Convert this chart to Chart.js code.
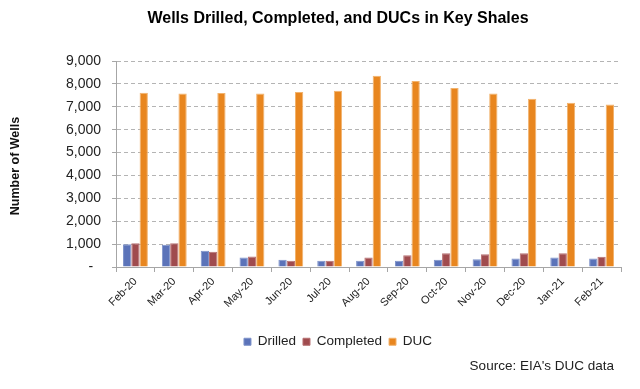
<!DOCTYPE html>
<html>
<head>
<meta charset="utf-8">
<title>Wells Drilled, Completed, and DUCs in Key Shales</title>
<script src="https://cdn.jsdelivr.net/npm/chart.js@4/dist/chart.umd.min.js"></script>
<style>
  html, body { margin: 0; padding: 0; background: #fff; }
  #wrap { width: 640px; height: 389px; }
</style>
</head>
<body>
<div id="wrap"><canvas id="chart" width="640" height="389"></canvas></div>
<script>
// ====== DATA ======
const months = ["Feb-20", "Mar-20", "Apr-20", "May-20", "Jun-20", "Jul-20", "Aug-20",
  "Sep-20", "Oct-20", "Nov-20", "Dec-20", "Jan-21", "Feb-21"];
const drilled = [990, 975, 715, 415, 315, 270, 270, 271, 314, 343, 371, 414, 371];
const completed = [1040, 1040, 670, 460, 270, 270, 415, 514, 600, 557, 600, 600, 443];
const duc = [7610, 7575, 7600, 7575, 7650, 7695, 8360, 8130, 7825, 7575, 7350, 7175, 7100];
const yTicks = [0, 1000, 2000, 3000, 4000, 5000, 6000, 7000, 8000, 9000];

const FONT = "'Liberation Sans', Arial, sans-serif";
const gray = "#a6a6a6";

// texto extra: etiqueta del eje Y y la fuente
const sideText = {
  id: "sideText",
  afterDraw(chart) {
    const ctx = chart.ctx;
    ctx.save();
    ctx.fillStyle = "#111";
    ctx.font = `bold 12.5px ${FONT}`;
    ctx.textAlign = "center";
    ctx.textBaseline = "middle";
    ctx.translate(16, 166);
    ctx.rotate(-Math.PI / 2);
    ctx.fillText("Number of Wells", 0, 0);
    ctx.restore();

    ctx.save();
    ctx.fillStyle = "#222";
    ctx.font = `13.5px ${FONT}`;
    ctx.textAlign = "right";
    ctx.textBaseline = "middle";
    ctx.fillText("Source: EIA's DUC data", 614, 366);
    ctx.restore();
  },
};

new Chart(document.getElementById("chart"), {
  type: "bar",
  data: {
    labels: months,
    datasets: [
      { label: "Drilled", data: drilled, backgroundColor: "#5b73b9", borderColor: "#7d92c9", borderWidth: 1 },
      { label: "Completed", data: completed, backgroundColor: "#a04b4e", borderColor: "#b77072", borderWidth: 1 },
      { label: "DUC", data: duc, backgroundColor: "#e8861f", borderColor: "#f2b36e", borderWidth: 1 },
    ],
  },
  options: {
    responsive: false,
    animation: false,
    devicePixelRatio: 1,
    datasets: { bar: { categoryPercentage: 0.64, barPercentage: 1 } },
    layout: { padding: { left: 55, right: 19, top: 0, bottom: 30.5 } },
    plugins: {
      title: {
        display: true,
        text: "Wells Drilled, Completed, and DUCs in Key Shales",
        color: "#000",
        font: { family: FONT, size: 16, weight: "bold" },
        padding: { top: 9.4, bottom: 32.4 },
      },
      legend: {
        position: "bottom",
        labels: {
          color: "#222",
          font: { family: FONT, size: 13.5 },
          boxWidth: 7,
          boxHeight: 7,
          padding: 7,
        },
      },
      tooltip: { enabled: false },
    },
    scales: {
      x: {
        grid: { display: true, drawOnChartArea: false, tickLength: 5, color: gray },
        border: { display: true, color: gray },
        ticks: {
          color: "#222",
          font: { family: FONT, size: 11 },
          minRotation: 45,
          maxRotation: 45,
          padding: 3,
        },
        afterFit(scale) { scale.height = 61; },
      },
      y: {
        min: 0,
        max: 9000,
        afterBuildTicks(scale) { scale.ticks = yTicks.map((v) => ({ value: v })); },
        grid: { color: "#b4b4b4", tickLength: 4, tickColor: gray, tickBorderDash: [] },
        border: { display: true, color: gray, dash: [4, 3] },
        ticks: {
          color: "#222",
          font: { family: FONT, size: 14 },
          padding: 11,
          callback: (v) => (v === 0 ? "-  " : v.toLocaleString("en-US")),
        },
      },
    },
  },
  plugins: [sideText],
});
</script>
</body>
</html>
